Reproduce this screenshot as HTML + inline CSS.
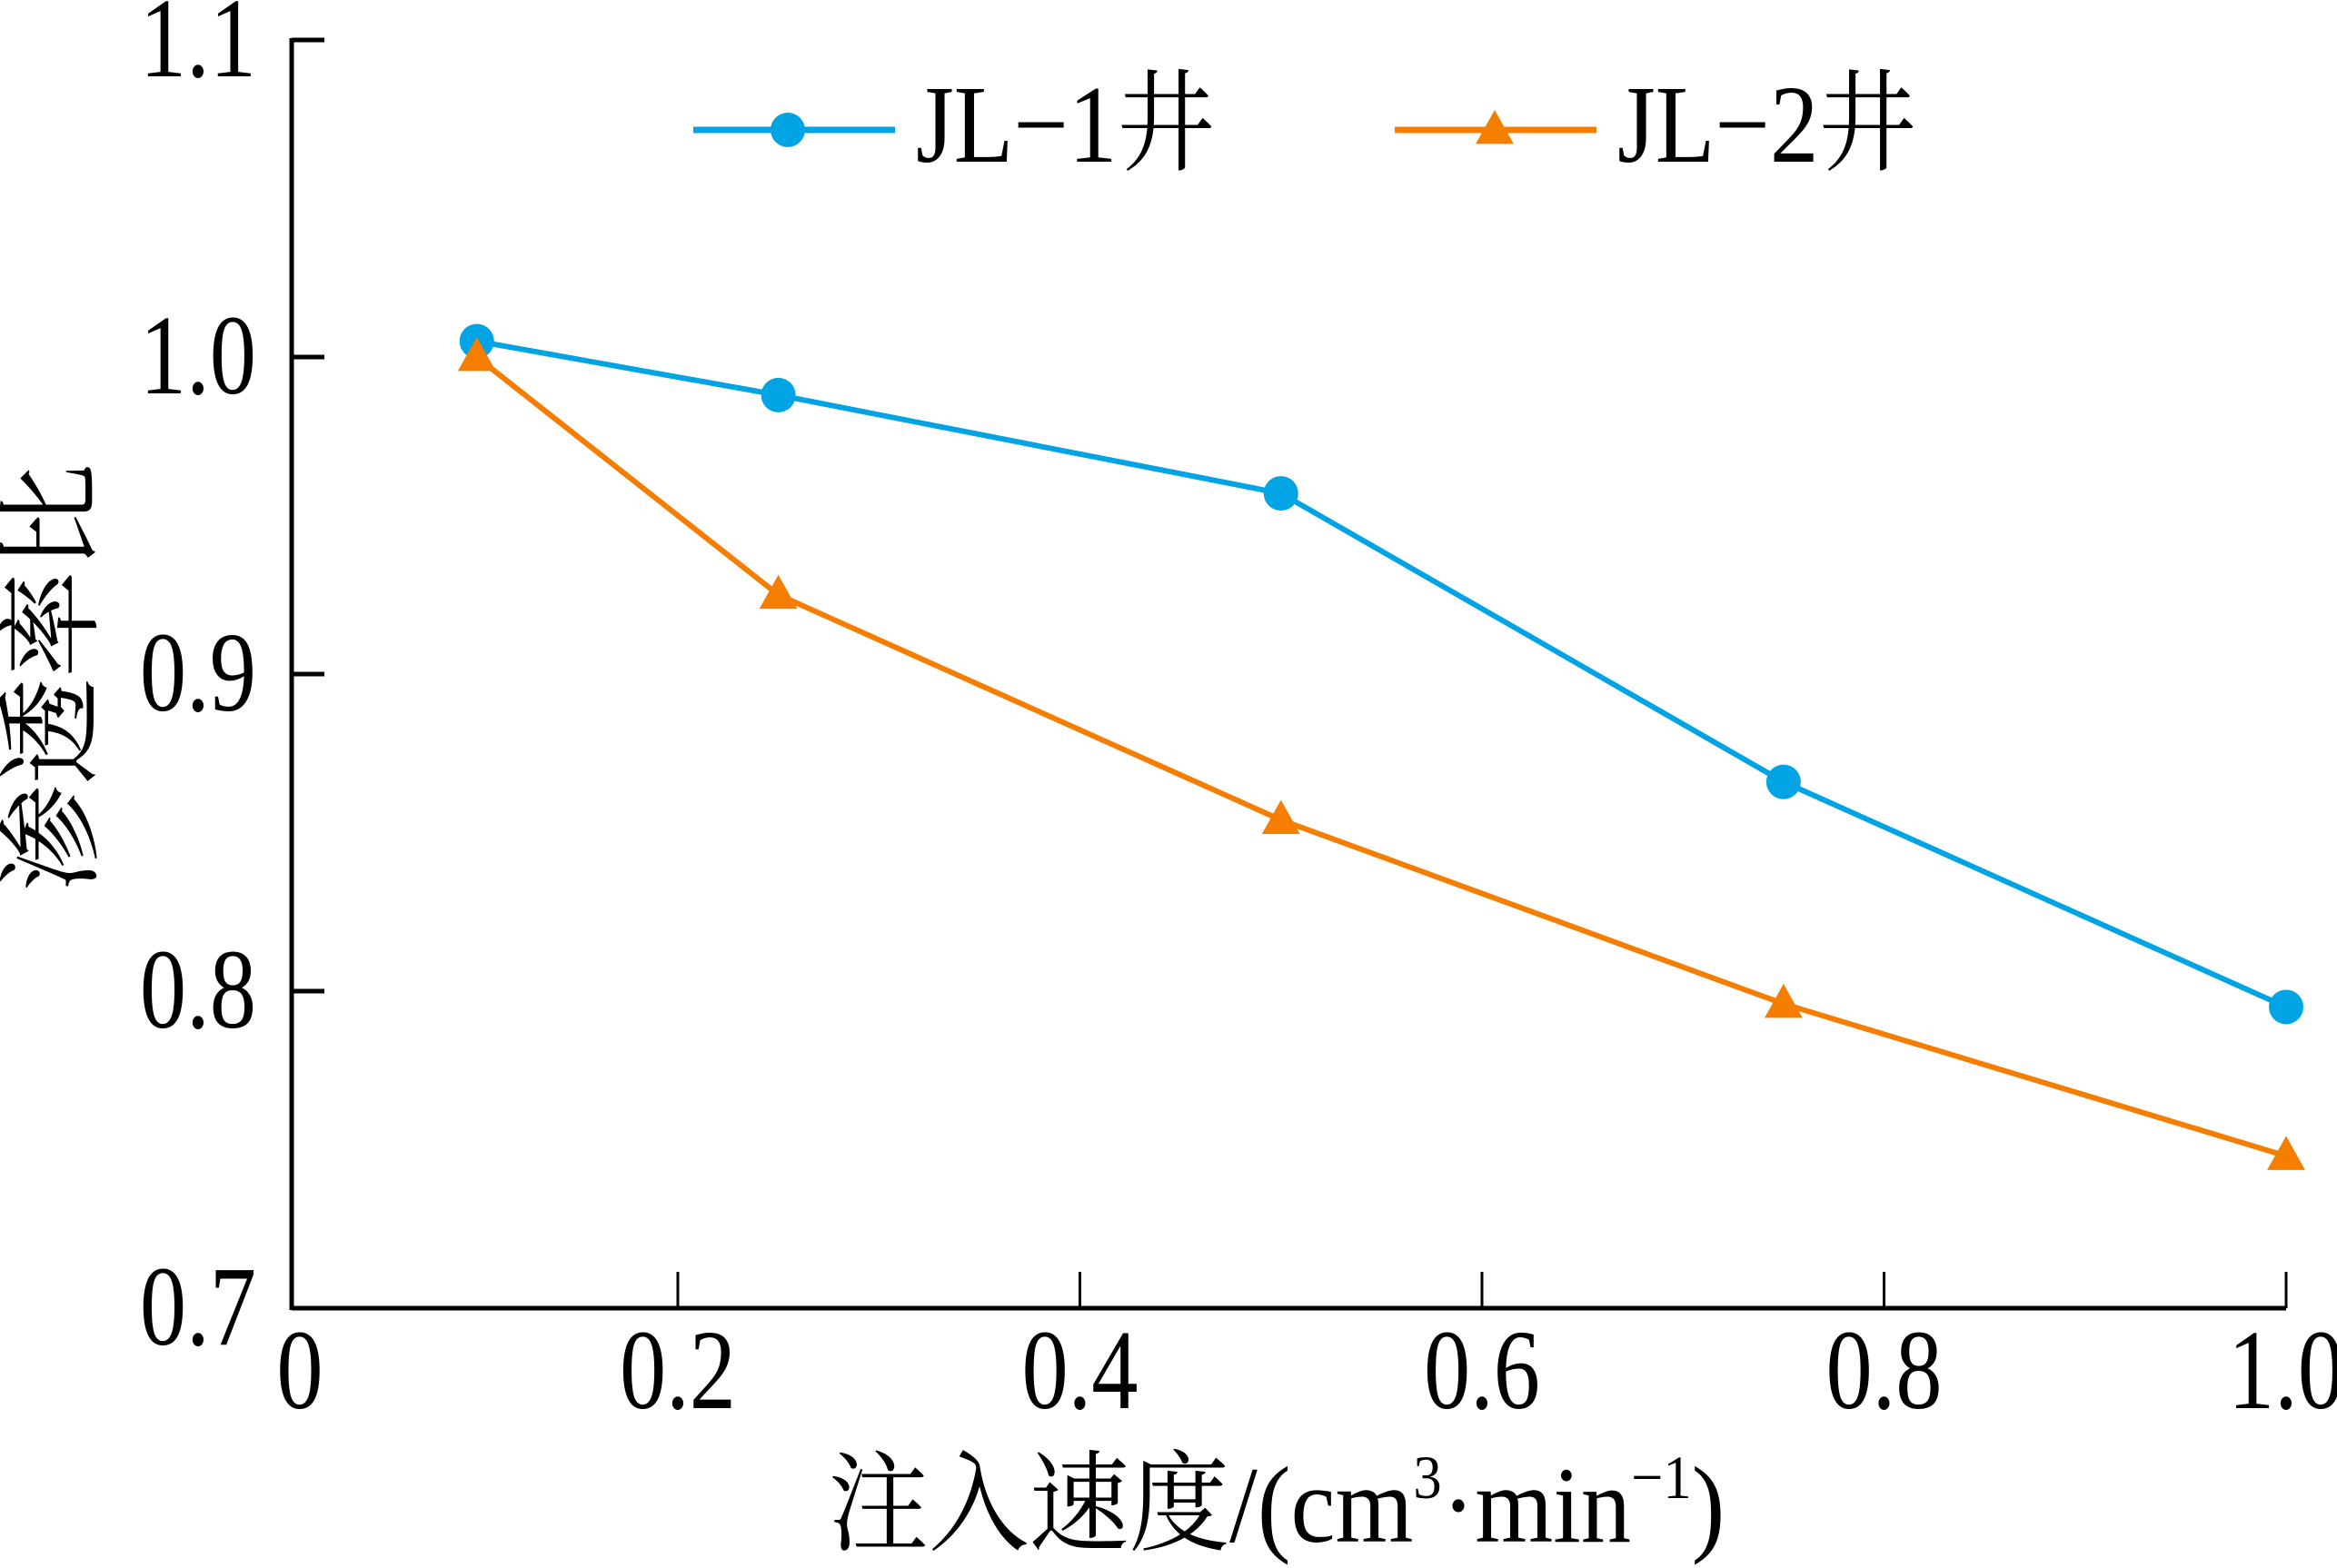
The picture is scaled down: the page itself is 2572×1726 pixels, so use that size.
<!DOCTYPE html>
<html><head><meta charset="utf-8"><style>
html,body{margin:0;padding:0;background:#fff;}
svg{display:block;}
text{font-family:"Liberation Serif","Noto Serif CJK SC",serif;fill:#000;}
</style></head><body>
<svg id="chart" width="2572" height="1726" viewBox="0 0 2572 1726" xmlns="http://www.w3.org/2000/svg">
<g id="axes"></g>
<g id="series"></g>
<g id="legend"></g>
<text transform="translate(1405,1697) scale(0.92,1)" text-anchor="middle" font-size="120">注入速度/(cm<tspan font-size="68" dy="-48">3</tspan><tspan dy="48">·min</tspan><tspan font-size="68" dy="-48">−1</tspan><tspan dy="48">)</tspan></text>
<text transform="translate(97,746) rotate(-90)" text-anchor="middle" font-size="118">渗透率比</text>
</svg>
<script>
const xTicks = [0, 0.2, 0.4, 0.6, 0.8, 1.0];
const xTickLabels = ["0", "0.2", "0.4", "0.6", "0.8", "1.0"];
const yTicks = [0.7, 0.8, 0.9, 1.0, 1.1];
const yTickLabels = ["0.7", "0.8", "0.9", "1.0", "1.1"];
const injectionRates = [0.1, 0.25, 0.5, 0.75, 1.0];
const jl1Values = [1.005, 0.988, 0.957, 0.866, 0.795];
const jl2Values = [1.0, 0.925, 0.854, 0.796, 0.748];

const NS = "http://www.w3.org/2000/svg";
function xs(v){ return 303.5 + v * 2212.5; }
function ys(v){ return 1440 - (v - 0.7) / 0.1 * 349; }
function mk(tag, attrs, parent){
  const e = document.createElementNS(NS, tag);
  for (const k in attrs) e.setAttribute(k, attrs[k]);
  parent.appendChild(e);
  return e;
}
const axes = document.getElementById('axes');
let l = mk('line', {x1:321, y1:ys(0.7), x2:xs(1.0), y2:ys(0.7), stroke:'#000', 'stroke-width':5}, axes);


l = mk('line', {x1:321, y1:ys(0.7)+2, x2:321, y2:ys(1.1)-2, stroke:'#000', 'stroke-width':5}, axes);


xTicks.forEach((t, i) => {
  if (t > 0) {
    const tk = mk('line', {x1:xs(t), y1:ys(0.7), x2:xs(t), y2:ys(0.7)-40, stroke:'#000', 'stroke-width':3}, axes);
    
    
  }
  const px = t === 0 ? 330 : xs(t);
  const tx = mk('text', {transform:`translate(${px},1550) scale(0.82,1)`, 'text-anchor':'middle', 'font-size':125}, axes);
  tx.textContent = xTickLabels[i];
  
  
});
yTicks.forEach((t, i) => {
  if (t > 0.7) {
    const tk = mk('line', {x1:321, y1:ys(t), x2:357, y2:ys(t), stroke:'#000', 'stroke-width':5}, axes);
    
    
  }
  const tx = mk('text', {transform:`translate(282,${ys(t)+40}) scale(0.82,1)`, 'text-anchor':'end', 'font-size':125}, axes);
  tx.textContent = yTickLabels[i];
  
  
});
const series = document.getElementById('series');
function tri(cx, cy, s){ return `${cx},${cy-s} ${cx-s*0.95},${cy+s*0.7} ${cx+s*0.95},${cy+s*0.7}`; }
function drawSeries(vals, color, marker, name){
  const g = mk('g', {}, series);
  
  
  const pts = vals.map((v, i) => xs(injectionRates[i]) + ',' + ys(v)).join(' ');
  const pl = mk('polyline', {points:pts, fill:'none', stroke:color, 'stroke-width':6}, g);
  
  
  vals.forEach((v, i) => {
    const cx = xs(injectionRates[i]), cy = ys(v);
    let m;
    if (marker === 'circle') m = mk('circle', {cx:cx, cy:cy, r:19, fill:color}, g);
    else m = mk('polygon', {points:tri(cx, cy, 22), fill:color}, g);
    
    
  });
}
drawSeries(jl1Values, '#00a3e3', 'circle', 'jl-1');
drawSeries(jl2Values, '#f57d00', 'triangle', 'jl-2');

const legend = document.getElementById('legend');
function legendEntry(x0, label, color, marker, name){
  const g = mk('g', {}, legend);
  
  
  mk('line', {x1:x0, y1:143, x2:x0+222, y2:143, stroke:color, 'stroke-width':7}, g);
  if (marker === 'circle') mk('circle', {cx:x0+104, cy:143, r:19, fill:color}, g);
  else mk('polygon', {points:tri(x0+110, 143, 22), fill:color}, g);
  const t = mk('text', {transform:`translate(${x0+245},178) scale(0.88,1)`, 'font-size':122}, g);
  t.textContent = label;
}
legendEntry(763, 'JL−1井', '#00a3e3', 'circle', 'jl-1');
legendEntry(1535, 'JL−2井', '#f57d00', 'triangle', 'jl-2');
</script>
</body></html>
